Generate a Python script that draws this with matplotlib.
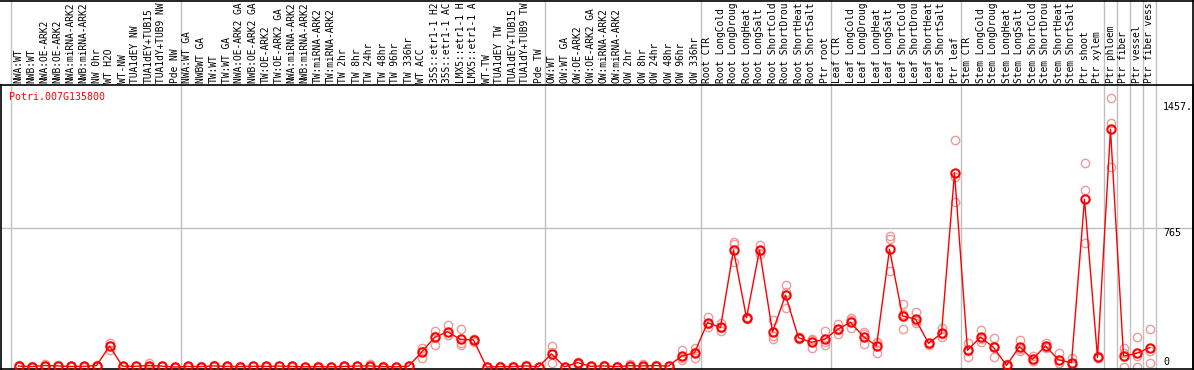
import matplotlib
matplotlib.use('Agg')
import matplotlib.pyplot as plt
import matplotlib.transforms as mtransforms
import numpy as np

plt.rcParams['font.family'] = 'DejaVu Sans Mono'

# sample labels (source cuts names at 14 characters)
samples = [
    'NWA:WT', 'NWB:WT', 'NWA:OE-ARK2', 'NWB:OE-ARK2', 'NWA:miRNA-ARK2', 'NWB:miRNA-ARK2',
    'NW 0hr', 'WT H2O', 'WT-NW', 'TUA1dEY NW', 'TUA1dEY+TUB15', 'TUA1dY+TUB9 NW', 'Pde NW',
    'NWA:WT GA', 'NWBWT GA', 'TW:WT', 'TW:WT GA', 'NWA:OE-ARK2 GA', 'NWB:OE-ARK2 GA',
    'TW:OE-ARK2', 'TW:OE-ARK2 GA', 'NWA:miRNA-ARK2', 'NWB:miRNA-ARK2', 'TW:miRNA-ARK2',
    'TW:miRNA-ARK2', 'TW 2hr', 'TW 8hr', 'TW 24hr', 'TW 48hr', 'TW 96hr', 'TW 336hr',
    'WT ACC', '35S::etr1-1 H2', '35S::etr1-1 AC', 'LMX5::etr1-1 H', 'LMX5::etr1-1 A',
    'WT-TW', 'TUA1dEY TW', 'TUA1dEY+TUB15', 'TUA1dY+TUB9 TW', 'Pde TW',
    'OW:WT', 'OW:WT GA', 'OW:OE-ARK2', 'OW:OE-ARK2 GA', 'OW:miRNA-ARK2', 'OW:miRNA-ARK2',
    'OW 2hr', 'OW 8hr', 'OW 24hr', 'OW 48hr', 'OW 96hr', 'OW 336hr',
    'Root CTR', 'Root LongCold', 'Root LongDroug', 'Root LongHeat', 'Root LongSalt',
    'Root ShortCold', 'Root ShortDrou', 'Root ShortHeat', 'Root ShortSalt', 'Ptr root',
    'Leaf CTR', 'Leaf LongCold', 'Leaf LongDroug', 'Leaf LongHeat', 'Leaf LongSalt',
    'Leaf ShortCold', 'Leaf ShortDrou', 'Leaf ShortHeat', 'Leaf ShortSalt', 'Ptr leaf',
    'Stem CTR', 'Stem LongCold', 'Stem LongDroug', 'Stem LongHeat', 'Stem LongSalt',
    'Stem ShortCold', 'Stem ShortDrou', 'Stem ShortHeat', 'Stem ShortSalt', 'Ptr shoot',
    'Ptr xylem', 'Ptr phloem', 'Ptr fiber', 'Ptr vessel', 'Ptr fiber vess',
]

# mean expression
mean_expr = [
    5, 2, 8, 6, 3, 3, 8, 115, 4, 4, 8, 5, 0,
    3, 2, 6, 3, 2, 4, 3, 5, 3, 1, 2, 1, 3, 5, 6, 2, 1, 4,
    81, 163, 194, 152, 149, 0, 2, 2, 6, 1,
    72, 1, 24, 4, 6, 2, 7, 6, 8, 5, 60, 78,
    244, 218, 644, 271, 644, 193, 396, 161, 136, 152,
    207, 246, 167, 116, 648, 281, 264, 130, 185, 1069,
    92, 165, 108, 9, 112, 42, 116, 39, 24, 923,
    53, 1308, 60, 75, 106,
]

# replicates
rep1 = [
    10, 3, 14, 9, 4, 5, 12, 134, 6, 5, 20, 8, 1,
    5, 3, 9, 4, 3, 6, 4, 8, 4, 2, 3, 2, 4, 8, 15, 3, 2, 6,
    106, 200, 231, 207, 155, 1, 3, 3, 12, 2,
    116, 2, 30, 6, 9, 3, 16, 15, 12, 8, 94, 103,
    277, 240, 690, 275, 671, 259, 451, 165, 150, 198,
    237, 268, 194, 139, 721, 345, 301, 134, 213, 1249,
    134, 204, 158, 14, 149, 60, 130, 75, 51, 1121,
    58, 1479, 103, 163, 207,
]
rep2 = [
    2, 1, 5, 4, 2, 2, 4, 94, 2, 3, 3, 3, 0,
    2, 1, 4, 2, 1, 3, 2, 3, 2, 0, 1, 0, 2, 3, 2, 1, 0, 3,
    48, 121, 176, 121, 140, 0, 1, 1, 3, 0,
    20, 0, 18, 2, 4, 1, 3, 2, 5, 3, 39, 48,
    218, 200, 580, 265, 622, 152, 323, 155, 106, 121,
    180, 213, 127, 75, 703, 209, 240, 122, 163, 910,
    53, 136, 53, 5, 97, 33, 107, 22, 12, 974,
    47, 1341, 0, 0, 90,
]
rep3 = [
    4, 2, 6, 5, 3, 2, 7, 117, 4, 4, 2, 4, 0,
    2, 2, 5, 3, 2, 3, 3, 4, 3, 1, 2, 1, 3, 4, 1, 2, 1, 3,
    88, 170, 178, 130, 152, 0, 2, 2, 3, 1,
    80, 1, 24, 4, 5, 2, 2, 1, 7, 4, 47, 83,
    237, 214, 675, 273, 640, 168, 414, 163, 152, 137,
    204, 257, 180, 134, 528, 289, 251, 134, 179, 1048,
    89, 155, 113, 8, 90, 33, 111, 20, 9, 684,
    54, 1102, 77, 62, 20,
]

gene = 'Potri.007G135800'
group_breaks = [-0.6, 12.5, 40.5, 52.5, 62.5, 72.5, 83.5, 84.5, 85.5, 86.5, 87.5]
ytick_vals = [1457, 765, 0]
ytick_text = ['1457.', '765', '0']

W, H = 1194, 370
fig = plt.figure(figsize=(W / 100, H / 100), dpi=100, facecolor='white')
ax = fig.add_axes([1 / W, 1 / H, 1192 / W, 284 / H])

x = np.arange(len(samples))
x_left = -17.5 / 13
x_right = x_left + 1192 / 13
ax.set_xlim(x_left, x_right)
ax.set_ylim(-11, 1552)

gray = '#c0c0c0'
top_ext = (H - 1) / 284 + 0.01
for b in group_breaks:
    ax.axvline(b, ymin=0, ymax=top_ext, color=gray, lw=1, clip_on=False, zorder=0)
ax.axhline(765, color=gray, lw=1, zorder=0)

pale = '#ee9a9a'
for r in (rep1, rep2, rep3):
    ax.plot(x, r, 'o', ms=6, mfc='none', mec=pale, mew=1, zorder=2)
ax.plot(x, mean_expr, '-', color='red', lw=1, zorder=3)
ax.plot(x, mean_expr, 'o', ms=6, mfc='none', mec='red', mew=1.5, zorder=4)

# sample labels above plot area
trans = mtransforms.blended_transform_factory(ax.transData, fig.transFigure)
for xi, lab in zip(x, samples):
    ax.text(xi, (H - 83) / H, lab, transform=trans, rotation=90, ha='center', va='bottom',
            fontsize=6.9, color='black', clip_on=False)

# value labels on the right
for v, t in zip(ytick_vals, ytick_text):
    ax.text(1163 / 13 + x_left - 1 / 13, v, t, ha='left',
            va='bottom' if v == 0 else 'top', fontsize=7.2, color='black')

ax.text(9 / W, (H - 97) / H, gene, transform=fig.transFigure, ha='left', va='center',
        fontsize=7.2, color='red')

ax.set_xticks([])
ax.set_yticks([])
for s in ax.spines.values():
    s.set_color('black')
    s.set_linewidth(1.2)

# outer frame of the label area
fig.add_artist(plt.Line2D([0, 1], [1 - 0.5 / H, 1 - 0.5 / H], transform=fig.transFigure, color='black', lw=1.2))
fig.add_artist(plt.Line2D([1 - 1.5 / W, 1 - 1.5 / W], [0, 1], transform=fig.transFigure, color='black', lw=1.2))

fig.savefig('out.png', dpi=100, facecolor='white')
